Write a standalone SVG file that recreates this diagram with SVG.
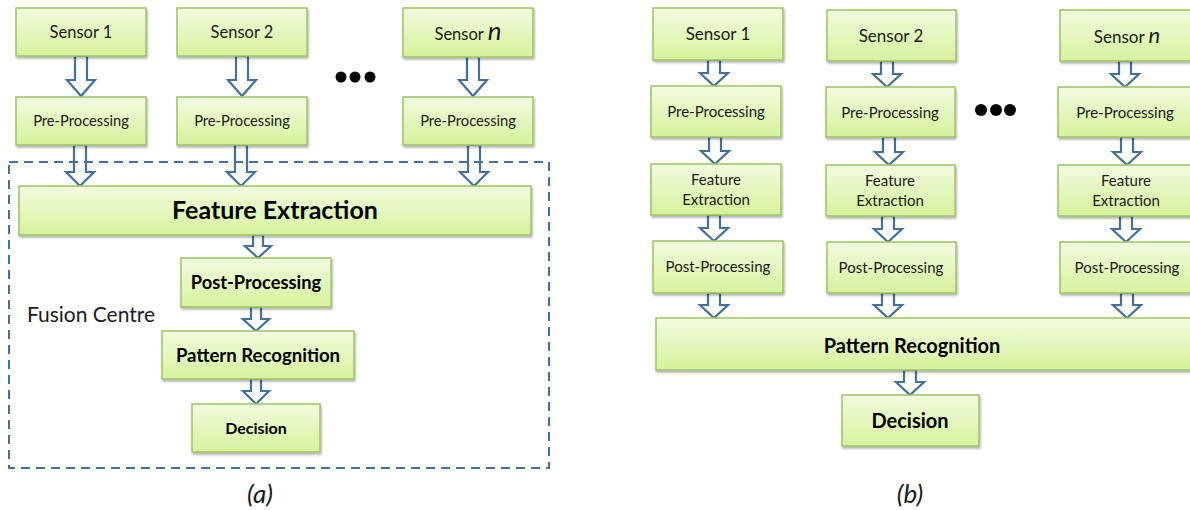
<svg xmlns="http://www.w3.org/2000/svg" width="1190" height="510" viewBox="0 0 1190 510">
  <style>
    .box { fill: url(#greenFill); stroke: #9cc463; stroke-width: 1.5; filter: url(#shadow); }
    .t { font-family: Lato, "Open Sans", "Liberation Sans", sans-serif; fill: #1a1a1a; text-anchor: middle; }
    .b { font-weight: bold; fill: #000; }
    .arrow { fill: #ffffff; stroke: #41719c; stroke-width: 2.2; stroke-linejoin: miter; }
    .dash { fill: none; stroke: #41719c; stroke-width: 2; stroke-dasharray: 9 6; }
    .dot { fill: #000; }
  </style>
  <defs>
    <linearGradient id="greenFill" x1="0" y1="0" x2="0" y2="1">
      <stop offset="0" stop-color="#f2fbe0"/>
      <stop offset="1" stop-color="#d5f29b"/>
    </linearGradient>
    <filter id="shadow" x="-10%" y="-10%" width="120%" height="130%">
      <feDropShadow dx="1" dy="2" stdDeviation="1.2" flood-color="#000" flood-opacity="0.3"/>
    </filter>
  </defs>
  <rect width="1190" height="510" fill="#ffffff"/>

  <!-- connectors: hollow block arrows -->
  <g id="connectors">
    <!-- (a) sensors to pre-processing -->
    <path class="arrow" d="M75,56 H87 V80 H95 L81,96 L67,80 H75 Z"/>
    <path class="arrow" d="M236,56 H248 V80 H256 L242,96 L228,80 H236 Z"/>
    <path class="arrow" d="M467,56 H479 V80 H487 L473,96 L459,80 H467 Z"/>
    <!-- (a) pre-processing to feature extraction -->
    <path class="arrow" d="M74,145 H86 V172 H94 L80,186 L66,172 H74 Z"/>
    <path class="arrow" d="M235,145 H247 V172 H255 L241,186 L227,172 H235 Z"/>
    <path class="arrow" d="M468,145 H480 V172 H488 L474,186 L460,172 H468 Z"/>
    <!-- (a) fusion centre chain -->
    <path class="arrow" d="M253,235 H263 V246 H271 L258,258 L245,246 H253 Z"/>
    <path class="arrow" d="M251,307 H261 V319 H269 L256,331 L243,319 H251 Z"/>
    <path class="arrow" d="M251,379 H261 V391 H269 L256,404 L243,391 H251 Z"/>

    <!-- (b) column 1 -->
    <path class="arrow" d="M708,60 H720 V73 H728 L714,86 L700,73 H708 Z"/>
    <path class="arrow" d="M709,137 H721 V151 H729 L715,164 L701,151 H709 Z"/>
    <path class="arrow" d="M708,215 H720 V228 H728 L714,241 L700,228 H708 Z"/>
    <path class="arrow" d="M708,293 H720 V305 H728 L714,318 L700,305 H708 Z"/>
    <!-- (b) column 2 -->
    <path class="arrow" d="M881,61 H893 V74 H901 L887,87 L873,74 H881 Z"/>
    <path class="arrow" d="M883,137 H895 V152 H903 L889,165 L875,152 H883 Z"/>
    <path class="arrow" d="M882,216 H894 V229 H902 L888,242 L874,229 H882 Z"/>
    <path class="arrow" d="M882,293 H894 V305 H902 L888,318 L874,305 H882 Z"/>
    <!-- (b) column n -->
    <path class="arrow" d="M1119,61 H1131 V74 H1139 L1125,87 L1111,74 H1119 Z"/>
    <path class="arrow" d="M1121,137 H1133 V152 H1141 L1127,165 L1113,152 H1121 Z"/>
    <path class="arrow" d="M1120,216 H1132 V229 H1140 L1126,242 L1112,229 H1120 Z"/>
    <path class="arrow" d="M1121,293 H1133 V305 H1141 L1127,318 L1113,305 H1121 Z"/>
    <!-- (b) pattern recognition to decision -->
    <path class="arrow" d="M904,370 H916 V382 H924 L910,395 L896,382 H904 Z"/>
  </g>

  <!-- (a) centralised fusion -->
  <g id="a-sensor-1"><rect class="box" x="16" y="8" width="130" height="48"/><text class="t" x="81" y="38" font-size="16.5">Sensor 1</text></g>
  <g id="a-sensor-2"><rect class="box" x="177" y="8" width="130" height="48"/><text class="t" x="242" y="38" font-size="16.5">Sensor 2</text></g>
  <g id="a-sensor-n"><rect class="box" x="403" y="8" width="130" height="49"/><text class="t" x="468" y="40" font-size="16.5">Sensor <tspan font-style="italic" font-size="26">n</tspan></text></g>
  <g id="a-dots"><circle class="dot" cx="341" cy="77" r="5.5"/><circle class="dot" cx="355" cy="77" r="5.5"/><circle class="dot" cx="370" cy="77" r="5.5"/></g>
  <g id="a-pre-1"><rect class="box" x="16" y="97" width="130" height="48"/><text class="t" x="81" y="126" font-size="14.7">Pre-Processing</text></g>
  <g id="a-pre-2"><rect class="box" x="177" y="97" width="130" height="48"/><text class="t" x="242" y="126" font-size="14.7">Pre-Processing</text></g>
  <g id="a-pre-n"><rect class="box" x="403" y="97" width="130" height="48"/><text class="t" x="468" y="126" font-size="14.7">Pre-Processing</text></g>

  <g id="fusion-centre">
    <rect class="dash" x="9" y="162" width="540" height="306"/>
    <text class="t" x="91" y="322" font-size="21">Fusion Centre</text>
  </g>
  <g id="a-feature"><rect class="box" x="19" y="186" width="512" height="49"/><text class="t b" x="275" y="219" font-size="25">Feature Extraction</text></g>
  <g id="a-post"><rect class="box" x="181" y="258" width="150" height="49"/><text class="t b" x="256" y="289" font-size="18.3">Post-Processing</text></g>
  <g id="a-pattern"><rect class="box" x="162" y="331" width="192" height="48"/><text class="t b" x="258" y="362" font-size="18.6">Pattern Recognition</text></g>
  <g id="a-decision"><rect class="box" x="192" y="404" width="128" height="48"/><text class="t b" x="256" y="434" font-size="16">Decision</text></g>
  <text class="t" x="260" y="503" font-size="26" font-style="italic">(a)</text>

  <!-- (b) distributed processing -->
  <g id="b-sensor-1"><rect class="box" x="653" y="8" width="130" height="52"/><text class="t" x="718" y="40" font-size="17">Sensor 1</text></g>
  <g id="b-sensor-2"><rect class="box" x="827" y="10" width="129" height="51"/><text class="t" x="891" y="42" font-size="17">Sensor 2</text></g>
  <g id="b-sensor-n"><rect class="box" x="1060" y="10" width="132" height="51"/><text class="t" x="1127" y="43" font-size="17">Sensor <tspan font-style="italic" font-size="22">n</tspan></text></g>
  <g id="b-dots"><circle class="dot" cx="981" cy="110" r="6"/><circle class="dot" cx="996" cy="110" r="6"/><circle class="dot" cx="1010" cy="110" r="6"/></g>

  <g id="b-pre-1"><rect class="box" x="651" y="86" width="130" height="51"/><text class="t" x="716" y="117" font-size="15">Pre-Processing</text></g>
  <g id="b-pre-2"><rect class="box" x="826" y="87" width="129" height="50"/><text class="t" x="890" y="118" font-size="15">Pre-Processing</text></g>
  <g id="b-pre-n"><rect class="box" x="1058" y="87" width="134" height="50"/><text class="t" x="1125" y="118" font-size="15">Pre-Processing</text></g>

  <g id="b-feature-1"><rect class="box" x="651" y="164" width="130" height="51"/><text class="t" x="716" y="185" font-size="15">Feature</text><text class="t" x="716" y="205" font-size="15">Extraction</text></g>
  <g id="b-feature-2"><rect class="box" x="826" y="165" width="129" height="51"/><text class="t" x="890" y="186" font-size="15">Feature</text><text class="t" x="890" y="206" font-size="15">Extraction</text></g>
  <g id="b-feature-n"><rect class="box" x="1058" y="165" width="134" height="51"/><text class="t" x="1126" y="186" font-size="15">Feature</text><text class="t" x="1126" y="206" font-size="15">Extraction</text></g>

  <g id="b-post-1"><rect class="box" x="653" y="241" width="130" height="52"/><text class="t" x="718" y="272" font-size="15">Post-Processing</text></g>
  <g id="b-post-2"><rect class="box" x="827" y="242" width="129" height="51"/><text class="t" x="891" y="273" font-size="15">Post-Processing</text></g>
  <g id="b-post-n"><rect class="box" x="1060" y="242" width="132" height="51"/><text class="t" x="1127" y="273" font-size="15">Post-Processing</text></g>

  <g id="b-pattern"><rect class="box" x="656" y="318" width="540" height="52"/><text class="t b" x="912" y="353" font-size="20">Pattern Recognition</text></g>
  <g id="b-decision"><rect class="box" x="842" y="395" width="137" height="51"/><text class="t b" x="910" y="428" font-size="20">Decision</text></g>
  <text class="t" x="910" y="503" font-size="26" font-style="italic">(b)</text>
</svg>
